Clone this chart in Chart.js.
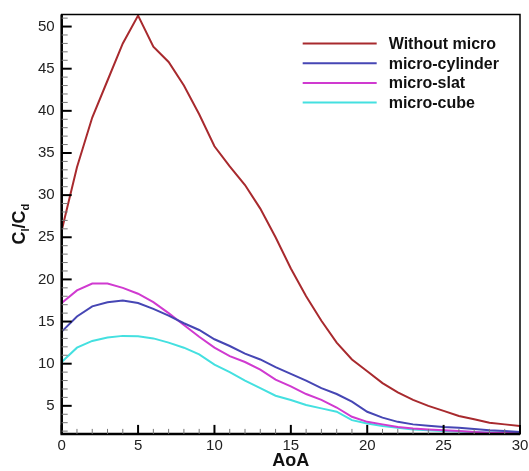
<!DOCTYPE html>
<html>
<head>
<meta charset="utf-8">
<script src="https://cdn.jsdelivr.net/npm/chart.js@4"></script>
<style>
  html, body { margin: 0; padding: 0; background: #fff; }
  #wrap { width: 529px; height: 471px; }
</style>
</head>
<body>
<div id="wrap"><canvas id="chart" width="529" height="471"></canvas></div>
<script>
// AoA values (deg)
const aoa = [0,1,2,3,4,5,6,7,8,9,10,11,12,13,14,15,16,17,18,19,20,21,22,23,24,25,26,27,28,29,30];

// Cl/Cd per configuration
const withoutMicro = [25.8,33.3,39.2,43.6,48.0,51.3,47.6,45.8,43.0,39.6,35.8,33.4,31.2,28.4,25.0,21.3,18.0,15.1,12.5,10.5,9.1,7.7,6.6,5.7,5.0,4.4,3.8,3.4,3.0,2.8,2.6];
const microCylinder = [13.8,15.6,16.8,17.3,17.5,17.2,16.5,15.7,14.8,14.0,12.9,12.1,11.2,10.5,9.6,8.8,8.0,7.1,6.4,5.5,4.3,3.6,3.1,2.8,2.65,2.5,2.4,2.25,2.1,2.0,1.9];
const microSlat = [17.2,18.7,19.5,19.5,19.0,18.3,17.3,16.0,14.6,13.2,11.9,10.9,10.2,9.3,8.1,7.3,6.4,5.7,4.8,3.7,3.1,2.8,2.5,2.3,2.2,2.1,2.0,1.9,1.8,1.8,1.75];
const microCube = [10.2,11.9,12.7,13.1,13.3,13.25,13.0,12.5,11.9,11.1,9.9,9.0,8.0,7.1,6.2,5.7,5.1,4.7,4.3,3.3,2.9,2.6,2.4,2.2,2.1,2.0,1.95,1.9,1.85,1.8,1.75];

const seriesNames = ['Without micro', 'micro-cylinder', 'micro-slat', 'micro-cube'];
const seriesColors = ['#a82a2e', '#4646b4', '#d03ad0', '#44e0e0'];

// tick labels
const xTicks = [0,5,10,15,20,25,30];
const yTicks = [5,10,15,20,25,30,35,40,45,50];

const FONT = "'Liberation Sans', Arial, sans-serif";

function mkSet(i, arr) {
  return {
    label: seriesNames[i],
    data: aoa.map((x, k) => ({ x: x, y: arr[k] })),
    borderColor: seriesColors[i],
    backgroundColor: seriesColors[i],
    borderWidth: 2,
    pointRadius: 0,
    tension: 0,
    fill: false
  };
}

// frame, inward ticks, legend and y title
const framePlugin = {
  id: 'frame',
  afterDatasetsDraw(chart) {
    const ctx = chart.ctx;
    const a = chart.chartArea;
    const xs = chart.scales.x, ys = chart.scales.y;
    ctx.save();
    ctx.strokeStyle = '#000';
    // top/right frame
    ctx.lineWidth = 1.5;
    ctx.strokeRect(a.left, a.top, a.right - a.left, a.bottom - a.top);
    // left/bottom axes
    ctx.lineWidth = 2.5;
    ctx.beginPath();
    ctx.moveTo(a.left, a.top);
    ctx.lineTo(a.left, a.bottom);
    ctx.lineTo(a.right, a.bottom);
    ctx.stroke();

    // x ticks
    for (let v = 0; v <= 30; v++) {
      const px = xs.getPixelForValue(v);
      const major = v % 5 === 0;
      ctx.lineWidth = major ? 2 : 1;
      ctx.strokeStyle = major ? '#000' : '#777';
      ctx.beginPath();
      ctx.moveTo(px, a.bottom);
      ctx.lineTo(px, a.bottom - (major ? 9 : 5));
      ctx.stroke();
    }
    // y ticks
    for (let v = 2; v <= 51; v++) {
      const py = ys.getPixelForValue(v);
      const major = v % 5 === 0;
      ctx.lineWidth = major ? 2 : 1;
      ctx.strokeStyle = major ? '#000' : '#777';
      ctx.beginPath();
      ctx.moveTo(a.left, py);
      ctx.lineTo(a.left + (major ? 10 : 6), py);
      ctx.stroke();
    }

    // legend
    const lx = a.left + 241, ty = a.top + 29;
    chart.data.datasets.forEach((ds, i) => {
      const y = ty + i * 19.7;
      ctx.strokeStyle = ds.borderColor;
      ctx.lineWidth = 2;
      ctx.beginPath();
      ctx.moveTo(lx, y);
      ctx.lineTo(lx + 74, y);
      ctx.stroke();
      ctx.fillStyle = '#111';
      ctx.font = 'bold 16px ' + FONT;
      ctx.textBaseline = 'middle';
      ctx.textAlign = 'left';
      ctx.fillText(ds.label, lx + 86, y + 1);
    });

    // y title C_l/C_d
    ctx.translate(25, (a.top + a.bottom) / 2);
    ctx.rotate(-Math.PI / 2);
    ctx.fillStyle = '#111';
    ctx.textBaseline = 'alphabetic';
    const big = 'bold 18px ' + FONT, small = 'bold 11px ' + FONT;
    const parts = [['C', big, 0], ['l', small, 4], ['/C', big, 0], ['d', small, 4]];
    let w = 0;
    parts.forEach(p => { ctx.font = p[1]; w += ctx.measureText(p[0]).width; });
    let x = -w / 2;
    parts.forEach(p => {
      ctx.font = p[1];
      ctx.fillText(p[0], x, p[2]);
      x += ctx.measureText(p[0]).width;
    });
    ctx.restore();
  }
};

new Chart(document.getElementById('chart'), {
  type: 'line',
  data: {
    datasets: [
      mkSet(0, withoutMicro),
      mkSet(1, microCylinder),
      mkSet(2, microSlat),
      mkSet(3, microCube)
    ]
  },
  options: {
    responsive: false,
    animation: false,
    parsing: true,
    layout: { padding: { left: 31, top: 14, right: 0, bottom: 2 } },
    plugins: {
      legend: { display: false },
      tooltip: { enabled: false }
    },
    scales: {
      x: {
        type: 'linear',
        min: 0,
        max: 30,
        afterBuildTicks: s => { s.ticks = xTicks.map(v => ({ value: v })); },
        afterFit: s => { s.paddingRight = 9; },
        grid: { display: false, drawTicks: false },
        border: { display: false },
        ticks: {
          color: '#222',
          padding: 4,
          maxRotation: 0,
          font: { family: FONT, size: 15, lineHeight: 1 }
        },
        title: {
          display: true,
          text: 'AoA',
          color: '#111',
          padding: { top: 0, bottom: 4 },
          font: { family: FONT, size: 18, weight: 'bold', lineHeight: 0.45 }
        }
      },
      y: {
        type: 'linear',
        min: 1.67,
        max: 51.43,
        afterBuildTicks: s => { s.ticks = yTicks.map(v => ({ value: v })); },
        grid: { display: false, drawTicks: false },
        border: { display: false },
        ticks: {
          color: '#222',
          padding: 7,
          font: { family: FONT, size: 15, lineHeight: 1 }
        }
      }
    }
  },
  plugins: [framePlugin]
});
</script>
</body>
</html>
